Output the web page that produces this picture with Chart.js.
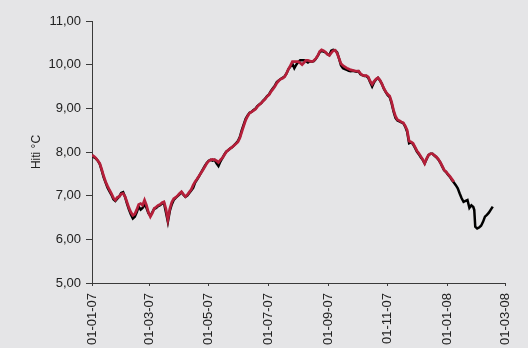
<!DOCTYPE html>
<html>
<head>
<meta charset="utf-8">
<script src="https://cdn.jsdelivr.net/npm/chart.js@4"></script>
<style>
  html, body { margin: 0; padding: 0; background: #e5e5e7; }
  canvas { display: block; }
</style>
</head>
<body>
<canvas id="c" width="528" height="348"></canvas>
<script>
// Days counted from 01-01-07
const days = [0,2,4,6,8,10,12,14,16,18,20,22,24,26,28,30,32,34,36,38,40,42,44,46,48,50,52,54,56,58,60,62,64,66,68,70,72,74,76,78,80,82,84,86,88,90,92,94,96,98,100,102,104,106,108,110,112,114,116,118,120,122,124,126,128,130,132,134,136,138,140,142,144,146,148,150,152,154,156,158,160,162,164,166,168,170,172,174,176,178,180,182,184,186,188,190,192,194,196,198,200,202,204,206,208,210,212,214,216,218,220,222,224,226,228,230,232,234,236,238,240,242,244,246,248,250,252,254,256,258,260,262,264,266,268,270,272,274,276,278,280,282,284,286,288,290,292,294,296,298,300,302,304,306,308,310,312,314,316,318,320,322,324,326,328,330,332,334,336,338,340,342,344,346,348,350,352,354,356,358,360,362,364,366,368,370,372];

const redSeries = [7.93,7.90,7.86,7.80,7.74,7.60,7.45,7.32,7.22,7.13,7.05,6.95,6.90,6.96,6.98,7.04,7.05,6.98,6.85,6.72,6.62,6.55,6.58,6.68,6.80,6.82,6.78,6.90,6.78,6.62,6.52,6.60,6.71,6.74,6.78,6.80,6.84,6.86,6.70,6.45,6.70,6.85,6.93,6.96,7.00,7.05,7.09,7.03,6.98,7.02,7.08,7.14,7.24,7.32,7.38,7.45,7.52,7.59,7.66,7.74,7.79,7.82,7.83,7.82,7.80,7.76,7.82,7.86,7.93,8.00,8.04,8.08,8.11,8.15,8.19,8.23,8.32,8.46,8.60,8.73,8.82,8.89,8.92,8.95,8.98,9.04,9.08,9.12,9.17,9.21,9.27,9.31,9.38,9.44,9.50,9.58,9.63,9.67,9.69,9.72,9.80,9.90,9.98,10.07,10.07,10.07,10.07,10.04,10.00,10.05,10.10,10.10,10.08,10.07,10.09,10.14,10.20,10.30,10.34,10.32,10.29,10.24,10.21,10.27,10.32,10.33,10.26,10.14,10.02,9.98,9.95,9.92,9.90,9.88,9.87,9.86,9.85,9.85,9.80,9.76,9.75,9.75,9.72,9.62,9.55,9.62,9.67,9.70,9.65,9.56,9.46,9.38,9.32,9.28,9.15,8.96,8.82,8.74,8.72,8.69,8.67,8.60,8.50,8.25,8.23,8.20,8.12,8.03,7.97,7.90,7.83,7.74,7.85,7.93,7.96,7.96,7.92,7.89,7.84,7.77,7.68,7.59,7.55,7.49,7.44,7.38,7.32];

const blackSeries = [7.93,7.88,7.85,7.80,7.72,7.58,7.42,7.30,7.18,7.10,7.02,6.92,6.88,6.93,6.98,7.06,7.08,6.97,6.82,6.68,6.57,6.48,6.52,6.62,6.75,6.68,6.72,6.80,6.72,6.60,6.54,6.62,6.70,6.72,6.76,6.78,6.82,6.83,6.62,6.40,6.65,6.80,6.90,6.95,6.99,7.03,7.08,7.02,6.97,7.00,7.06,7.12,7.18,7.30,7.37,7.44,7.52,7.60,7.68,7.75,7.80,7.82,7.80,7.82,7.74,7.68,7.78,7.86,7.94,8.01,8.04,8.08,8.11,8.15,8.20,8.25,8.34,8.50,8.63,8.76,8.84,8.90,8.92,8.96,8.99,9.05,9.09,9.12,9.18,9.22,9.28,9.32,9.40,9.46,9.52,9.60,9.64,9.67,9.70,9.73,9.80,9.90,9.96,10.02,9.92,10.00,10.06,10.10,10.10,10.10,10.08,10.05,10.08,10.07,10.08,10.13,10.20,10.28,10.32,10.30,10.28,10.24,10.22,10.32,10.34,10.33,10.28,10.14,9.98,9.92,9.90,9.88,9.86,9.85,9.86,9.85,9.84,9.85,9.78,9.76,9.74,9.74,9.70,9.60,9.50,9.60,9.66,9.70,9.64,9.56,9.45,9.37,9.30,9.26,9.12,8.93,8.78,8.72,8.70,8.68,8.66,8.58,8.46,8.20,8.22,8.18,8.10,8.01,7.95,7.88,7.82,7.74,7.84,7.93,7.96,7.96,7.92,7.88,7.83,7.76,7.67,7.58,7.54,7.48,7.43,7.36,7.30];

// The black record continues after the red one stops
const blackTailDays = [374,376,378,380,382,384,386,388,390,392,393,394,396,398,400,402,404,406,408,410,412];
const blackTail = [7.24,7.17,7.05,6.94,6.86,6.88,6.90,6.72,6.78,6.74,6.67,6.29,6.25,6.27,6.31,6.40,6.52,6.56,6.61,6.68,6.75];

const tickDays = [0,59,120,181,243,304,365,425];
const tickLabels = ['01-01-07','01-03-07','01-05-07','01-07-07','01-09-07','01-11-07','01-01-08','01-03-08'];

const yMin = 5, yMax = 11, yStep = 1;
const yTitle = 'Hiti °C';

const pts = (xs, ys) => xs.map((x, i) => ({ x: x, y: ys[i] }));

const blackPoints = pts(days, blackSeries).concat(pts(blackTailDays, blackTail));
const redPoints = pts(days, redSeries);

const axisColor = '#3a3a3a';
const textColor = '#222222';
const fontFamily = '"Liberation Sans", Arial, sans-serif';

new Chart(document.getElementById('c'), {
  type: 'line',
  data: {
    datasets: [
      {
        data: redPoints,
        borderColor: '#b51f3a',
        borderWidth: 2.7,
        pointRadius: 0,
        tension: 0,
        fill: false,
        order: 1
      },
      {
        data: blackPoints,
        borderColor: '#000000',
        borderWidth: 2.5,
        pointRadius: 0,
        tension: 0,
        fill: false,
        order: 2
      }
    ]
  },
  options: {
    responsive: false,
    animation: false,
    events: [],
    layout: { padding: { top: 21, right: 12, left: 0, bottom: 0 } },
    plugins: {
      legend: { display: false },
      tooltip: { enabled: false }
    },
    scales: {
      x: {
        type: 'linear',
        min: 0,
        max: 425,
        afterBuildTicks: (scale) => {
          scale.ticks = tickDays.map(v => ({ value: v }));
        },
        afterFit: (scale) => { scale.height = 65; },
        border: { display: true, color: axisColor, width: 1 },
        grid: { drawOnChartArea: false, drawTicks: true, tickLength: 3, color: axisColor },
        ticks: {
          autoSkip: false,
          maxRotation: 90,
          minRotation: 90,
          padding: 7,
          color: textColor,
          font: { family: fontFamily, size: 13 },
          callback: (v) => {
            const i = tickDays.indexOf(v);
            return i >= 0 ? tickLabels[i] : '';
          }
        }
      },
      y: {
        type: 'linear',
        min: yMin,
        max: yMax,
        afterFit: (scale) => { scale.width = 92; },
        border: { display: true, color: axisColor, width: 1 },
        grid: { drawOnChartArea: false, drawTicks: true, tickLength: 6, color: axisColor },
        ticks: {
          stepSize: yStep,
          padding: 5,
          color: textColor,
          font: { family: fontFamily, size: 13 },
          callback: (v) => v.toFixed(2).replace('.', ',')
        },
        title: {
          display: true,
          text: yTitle,
          color: textColor,
          font: { family: fontFamily, size: 12 },
          padding: { top: 29, bottom: 0 }
        }
      }
    }
  }
});
</script>
</body>
</html>
